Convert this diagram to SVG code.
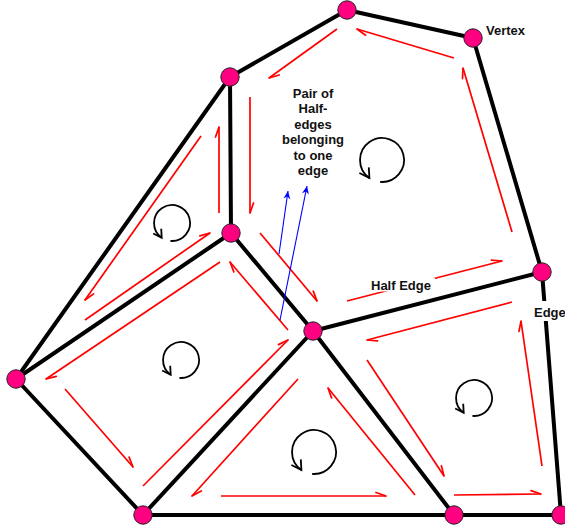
<svg xmlns="http://www.w3.org/2000/svg" width="565" height="530" viewBox="0 0 565 530">
<style>
.edge{stroke:#000;stroke-width:4;fill:none;stroke-linecap:round}
.he{stroke:#ff0000;stroke-width:1.7;fill:none;marker-end:url(#half)}
.ptr{stroke:#0000ff;stroke-width:1.1;fill:none;marker-end:url(#blue)}
.vtx{fill:#ff0080;stroke:#222;stroke-width:1}
.rot{stroke:#000;stroke-width:1.8;fill:none}
.lbl{font-family:"Liberation Sans",Arial,Helvetica,sans-serif;font-weight:bold;font-size:13px;fill:#111}
.bg{fill:#fff}
</style>
<defs>
<marker id="half" markerUnits="userSpaceOnUse" markerWidth="14" markerHeight="12" viewBox="-12 -6 14 12" refX="0" refY="0" orient="auto" overflow="visible"><path d="M0,0 L-10,-3.5" stroke="#ff0000" stroke-width="1.7" fill="none" stroke-linecap="round"/></marker>
<marker id="blue" markerUnits="userSpaceOnUse" markerWidth="10" markerHeight="10" viewBox="-9 -5 10 10" refX="0" refY="0" orient="auto" overflow="visible"><path d="M0,0 L-8,-3.5 L-5.5,0 L-8,3.5 Z" fill="#0000ff"/></marker>
<g id="rotBig"><path class="rot" d="M-1.9,21.9 A22,22 0 1 0 -12.6,18"/><path class="rot" d="M-22.6,13 L-12.6,18 L-13.2,7.4"/></g>
<g id="rotSmall"><path class="rot" d="M-1.6,17.9 A18,18 0 1 0 -10.3,14.7"/><path class="rot" d="M-18.8,10.5 L-10.3,14.7 L-10.8,5.7"/></g>
</defs>
<rect width="565" height="530" fill="#fff"/>
<g id="connectors">
<g id="edges">
<line class="edge" x1="347" y1="10" x2="473" y2="38"/>
<line class="edge" x1="347" y1="10" x2="230" y2="77"/>
<line class="edge" x1="473" y1="38" x2="542" y2="272"/>
<line class="edge" x1="230" y1="77" x2="231" y2="233"/>
<line class="edge" x1="230" y1="77" x2="16" y2="379"/>
<line class="edge" x1="231" y1="233" x2="313" y2="331"/>
<line class="edge" x1="231" y1="233" x2="16" y2="379"/>
<line class="edge" x1="313" y1="331" x2="542" y2="272"/>
<line class="edge" x1="313" y1="331" x2="143" y2="515"/>
<line class="edge" x1="313" y1="331" x2="454" y2="515"/>
<line class="edge" x1="16" y1="379" x2="143" y2="515"/>
<line class="edge" x1="143" y1="515" x2="454" y2="515"/>
<line class="edge" x1="454" y1="515" x2="561" y2="515"/>
<line class="edge" x1="542" y1="272" x2="561" y2="515"/>
</g>
<g id="half-edges">
<line class="he" x1="337" y1="29" x2="269" y2="78"/>
<line class="he" x1="454" y1="58" x2="357" y2="29"/>
<line class="he" x1="512" y1="232" x2="463" y2="68"/>
<line class="he" x1="347" y1="301" x2="502" y2="261"/>
<line class="he" x1="260" y1="233" x2="317" y2="301"/>
<line class="he" x1="250" y1="97" x2="250" y2="213"/>
<line class="he" x1="219" y1="213" x2="219" y2="127"/>
<line class="he" x1="201" y1="136" x2="85" y2="300"/>
<line class="he" x1="85" y1="320" x2="210" y2="233"/>
<line class="he" x1="220" y1="262" x2="46" y2="379"/>
<line class="he" x1="65" y1="389" x2="133" y2="467"/>
<line class="he" x1="143" y1="486" x2="288" y2="340"/>
<line class="he" x1="288" y1="330" x2="230" y2="262"/>
<line class="he" x1="298" y1="379" x2="192" y2="496"/>
<line class="he" x1="221" y1="496" x2="386" y2="496"/>
<line class="he" x1="415" y1="495" x2="328" y2="388"/>
<line class="he" x1="512" y1="302" x2="367" y2="340"/>
<line class="he" x1="367" y1="360" x2="444" y2="476"/>
<line class="he" x1="454" y1="495" x2="541" y2="494"/>
<line class="he" x1="542" y1="466" x2="521" y2="321"/>
</g>
<g id="pointers">
<line class="ptr" x1="279" y1="254" x2="288" y2="191"/>
<line class="ptr" x1="280" y1="320" x2="307" y2="186"/>
</g>
</g>
<g id="face-orientation">
<use href="#rotBig" transform="translate(382,160)"/>
<use href="#rotSmall" transform="translate(172,223)"/>
<use href="#rotSmall" transform="translate(181,360)"/>
<use href="#rotBig" transform="translate(314,452)"/>
<use href="#rotSmall" transform="translate(474,398)"/>
</g>
<g id="v1"><circle class="vtx" cx="347" cy="10" r="9.2"/></g>
<g id="v2"><circle class="vtx" cx="473" cy="38" r="9.2"/></g>
<g id="v3"><circle class="vtx" cx="230" cy="77" r="9.2"/></g>
<g id="v4"><circle class="vtx" cx="542" cy="272" r="9.2"/></g>
<g id="v5"><circle class="vtx" cx="231" cy="233" r="9.2"/></g>
<g id="v6"><circle class="vtx" cx="313" cy="331" r="9.2"/></g>
<g id="v7"><circle class="vtx" cx="16" cy="379" r="9.2"/></g>
<g id="v8"><circle class="vtx" cx="143" cy="515" r="9.2"/></g>
<g id="v9"><circle class="vtx" cx="454" cy="515" r="9.2"/></g>
<g id="v10"><circle class="vtx" cx="561" cy="515" r="9.2"/></g>
<g id="label-vertex"><text class="lbl" x="486" y="35">Vertex</text></g>
<g id="label-pair"><text class="lbl" text-anchor="middle"><tspan x="313" y="98">Pair of</tspan><tspan x="313" y="113.4">Half-</tspan><tspan x="313" y="128.8">edges</tspan><tspan x="313" y="144.2">belonging</tspan><tspan x="313" y="159.6">to one</tspan><tspan x="313" y="175">edge</tspan></text></g>
<g id="label-half-edge"><rect class="bg" x="369" y="278" width="66" height="13.5"/><text class="lbl" x="371" y="290">Half Edge</text></g>
<g id="label-edge"><rect class="bg" x="532" y="301" width="40" height="20"/><text class="lbl" x="534" y="317">Edge</text></g>
</svg>
